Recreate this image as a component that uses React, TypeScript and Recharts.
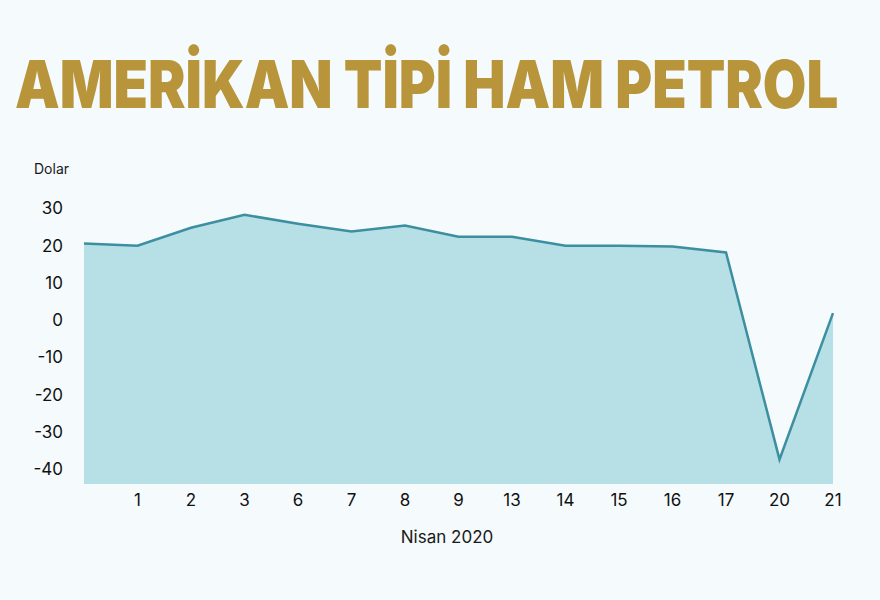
import {Area, AreaChart, XAxis, YAxis} from "recharts"

const days = ["", "1", "2", "3", "6", "7", "8", "9", "13", "14", "15", "16", "17", "20", "21"]
const prices = [20.6, 20.0, 24.8, 28.3, 25.9, 23.8, 25.4, 22.4, 22.4, 20.0, 20.0, 19.8, 18.2, -37.4, 1.9]
const yTicks = [-40, -30, -20, -10, 0, 10, 20, 30]

const chartData = days.map((day, i) => ({day, price: prices[i]}))

const font = "Inter, 'Liberation Sans', sans-serif"

export default function App() {
    return (
        <div style={{position: "absolute", left: 0, top: 0, width: 880, height: 600, background: "#f5fafd", fontFamily: font, overflow: "hidden"}}>
            <svg width={880} height={150} style={{position: "absolute", left: 0, top: 0}}>
                {/* title squeezed horizontally to match the condensed look */}
                <text x={0} y={0} transform="translate(15,108) scale(0.854,1)" fontSize={66} fontWeight={900} fill="#b8953a"
                      textLength={964} lengthAdjust="spacingAndGlyphs" fontFamily={font}>
                    AMERİKAN TİPİ HAM PETROL
                </text>
            </svg>
            <div style={{position: "absolute", left: 34, top: 160, fontSize: 14, color: "#1a1a1a"}}>Dolar</div>
            <div style={{position: "absolute", left: 0, width: 894, top: 527, textAlign: "center", fontSize: 17, color: "#1a1a1a"}}>Nisan 2020</div>
            <div style={{position: "absolute", left: 0, top: 0}}>
                <AreaChart width={880} height={600} data={chartData}
                           margin={{top: 201, right: 47, bottom: 86, left: 0}}>
                    <XAxis
                        dataKey="day"
                        axisLine={false}
                        tickLine={false}
                        height={30}
                        tickMargin={4}
                        interval={0}
                        tick={{fill: "#111", fontSize: 17}}
                    />
                    <YAxis
                        domain={[-44, 32]}
                        ticks={yTicks}
                        axisLine={false}
                        tickLine={false}
                        width={84}
                        tickMargin={15}
                        tick={{fill: "#111", fontSize: 17}}
                    />
                    <Area
                        type="linear"
                        dataKey="price"
                        baseValue="dataMin"
                        stroke="#3b8fa0"
                        strokeWidth={2.5}
                        fill="#b7e0e6"
                        fillOpacity={1}
                        isAnimationActive={false}
                    />
                </AreaChart>
            </div>
        </div>
    )
}
